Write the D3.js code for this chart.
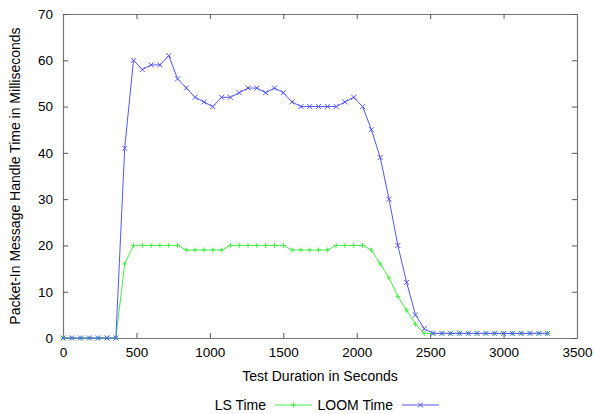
<!DOCTYPE html>
<html>
<head>
<meta charset="utf-8">
<script src="https://cdn.jsdelivr.net/npm/d3@7"></script>
<style>
  body { margin: 0; background: #fff; }
  svg text { font-family: "Liberation Sans", Arial, sans-serif; fill: #000; }
</style>
</head>
<body>
<svg id="chart" width="594" height="414"></svg>
<script>
// samples every 60 s from 0 to 3300
var seconds = d3.range(0, 3301, 60)

var lsTime = [0, 0, 0, 0, 0, 0, 0, 16, 20, 20, 20, 20, 20, 20, 19, 19, 19, 19, 19,
    20, 20, 20, 20, 20, 20, 20, 19, 19, 19, 19, 19, 20, 20, 20, 20, 19, 16, 13, 9, 6, 3, 1,
    1, 1, 1, 1, 1, 1, 1, 1, 1, 1, 1, 1, 1, 1]

var loomTime = [0, 0, 0, 0, 0, 0, 0, 41, 60, 58, 59, 59, 61, 56, 54, 52, 51, 50, 52,
    52, 53, 54, 54, 53, 54, 53, 51, 50, 50, 50, 50, 50, 51, 52, 50, 45, 39, 30, 20, 12, 5, 2,
    1, 1, 1, 1, 1, 1, 1, 1, 1, 1, 1, 1, 1, 1]

var xTicks = [0, 500, 1000, 1500, 2000, 2500, 3000, 3500]
var yTicks = [0, 10, 20, 30, 40, 50, 60, 70]

var series = [
    { name: 'LS Time', values: lsTime, color: '#44ee44', marker: 'plus' },
    { name: 'LOOM Time', values: loomTime, color: '#5555ff', marker: 'cross' }
]

var svg = d3.select("#chart")
var padL = 63, padR = 577, padT = 14, padB = 338

var x = d3.scaleLinear().domain([0, 3500]).range([padL, padR])
var y = d3.scaleLinear().domain([0, 70]).range([padB, padT])

// axes with inward ticks, mirrored on top and right
svg.append("g")
    .attr("transform", "translate(0," + padB + ")")
    .call(d3.axisBottom(x).tickValues(xTicks).tickFormat(d3.format("d"))
        .tickSizeInner(-5).tickSizeOuter(0).tickPadding(9))
svg.append("g")
    .attr("transform", "translate(0," + padT + ")")
    .call(d3.axisTop(x).tickValues(xTicks).tickSizeInner(-5).tickSizeOuter(0).tickFormat(""))
svg.append("g")
    .attr("transform", "translate(" + padL + ",0)")
    .call(d3.axisLeft(y).tickValues(yTicks).tickSizeInner(-5).tickSizeOuter(0).tickPadding(10))
svg.append("g")
    .attr("transform", "translate(" + padR + ",0)")
    .call(d3.axisRight(y).tickValues(yTicks).tickSizeInner(-5).tickSizeOuter(0).tickFormat(""))

svg.selectAll(".domain").attr("stroke", "#777").attr("stroke-width", 1.2)
svg.selectAll(".tick line").attr("stroke", "#555")
svg.selectAll(".tick text").style("font-size", "13.5px").attr("fill", "#000")

var line = d3.line()
    .x((d, i) => x(seconds[i]))
    .y(d => y(d))

function markerPath(type, cx, cy, r) {
    if (type === 'plus')
        return "M" + (cx - r) + "," + cy + "H" + (cx + r) + "M" + cx + "," + (cy - r) + "V" + (cy + r)
    return "M" + (cx - r) + "," + (cy - r) + "L" + (cx + r) + "," + (cy + r) +
        "M" + (cx - r) + "," + (cy + r) + "L" + (cx + r) + "," + (cy - r)
}

series.forEach(function(s) {
    var g = svg.append("g")
    g.append("path")
        .attr("d", line(s.values))
        .attr("fill", "none")
        .attr("stroke", s.color)
        .attr("stroke-width", 1)
    g.selectAll("path.pt")
        .data(s.values)
        .enter()
            .append("path")
            .attr("class", "pt")
            .attr("d", (d, i) => markerPath(s.marker, x(seconds[i]), y(d), 2.5))
            .attr("stroke", s.color)
            .attr("stroke-width", 1)
})

// axis titles
svg.append("text")
    .attr("x", (padL + padR) / 2)
    .attr("y", 381)
    .attr("text-anchor", "middle")
    .style("font-size", "14px")
    .text("Test Duration in Seconds")

svg.append("text")
    .attr("transform", "translate(20," + (padT + padB) / 2 + ") rotate(-90)")
    .attr("text-anchor", "middle")
    .style("font-size", "14px")
    .text("Packet-In Message Handle Time in Milliseconds")

// legend
var legend = [
    { s: series[0], textEnd: 266, x0: 275, x1: 312 },
    { s: series[1], textEnd: 393, x0: 402, x1: 439 }
]
legend.forEach(function(l) {
    svg.append("text")
        .attr("x", l.textEnd)
        .attr("y", 410)
        .attr("text-anchor", "end")
        .style("font-size", "14px")
        .text(l.s.name)
    svg.append("line")
        .attr("x1", l.x0).attr("x2", l.x1)
        .attr("y1", 405).attr("y2", 405)
        .attr("stroke", l.s.color)
    svg.append("path")
        .attr("d", markerPath(l.s.marker, (l.x0 + l.x1) / 2, 405, 2.5))
        .attr("stroke", l.s.color)
})
</script>
</body>
</html>
